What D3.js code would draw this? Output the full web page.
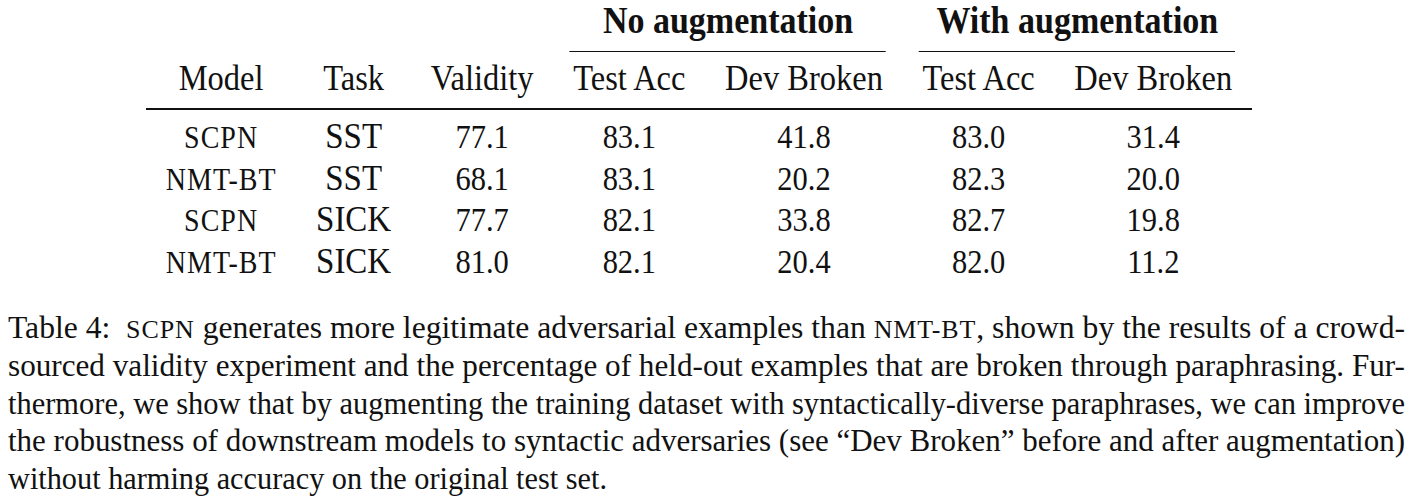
<!DOCTYPE html>
<meta charset="utf-8">
<head>
<style>
  body { margin: 0; background: #fff; }
  text { font-family: "Liberation Serif", "Times New Roman", serif; fill: #111; }
</style>
</head>
<script src="https://d3js.org/d3.v7.min.js"></script>
<body>
  <div id="my_table"></div>
</body>
<script>
    // table values
    var models = ["SCPN", "NMT-BT", "SCPN", "NMT-BT"];
    var tasks = ["SST", "SST", "SICK", "SICK"];
    var validity = [77.1, 68.1, 77.7, 81.0];
    var noAugTestAcc = [83.1, 83.1, 82.1, 82.1];
    var noAugDevBroken = [41.8, 20.2, 33.8, 20.4];
    var augTestAcc = [83.0, 82.3, 82.7, 82.0];
    var augDevBroken = [31.4, 20.0, 19.8, 11.2];
    var headers = ["Model", "Task", "Validity", "Test Acc", "Dev Broken", "Test Acc", "Dev Broken"];
    var groupLabels = ["No augmentation", "With augmentation"];
    var groupSpans = [[3, 4], [5, 6]];

    // caption lines, pieces marked sc are small caps
    var captionLines = [
      [["Table 4:  "], ["SCPN", "sc"], [" generates more legitimate adversarial examples than "], ["NMT-BT", "sc"], [", shown by the results of a crowd-"]],
      [["sourced validity experiment and the percentage of held-out examples that are broken through paraphrasing. Fur-"]],
      [["thermore, we show that by augmenting the training dataset with syntactically-diverse paraphrases, we can improve"]],
      [["the robustness of downstream models to syntactic adversaries (see \u201cDev Broken\u201d before and after augmentation)"]],
      [["without harming accuracy on the original test set."]]
    ];

    var width = 1415, height = 497;
    var tableLeft = 146, tableRight = 1252;
    var sy = 1.1; // the scan is a bit taller than wide

    var svg = d3.select("#my_table")
      .append("svg")
        .attr("width", width)
        .attr("height", height);

    // columns of cells
    var columns = [
      models, tasks,
      validity.map(function(d) { return d.toFixed(1); }),
      noAugTestAcc.map(function(d) { return d.toFixed(1); }),
      noAugDevBroken.map(function(d) { return d.toFixed(1); }),
      augTestAcc.map(function(d) { return d.toFixed(1); }),
      augDevBroken.map(function(d) { return d.toFixed(1); })
    ];
    function cellSize(c) { return c == 0 ? 28 : (c == 1 ? 33 : 30.5); }
    var headSize = 32.5;

    // measure text widths to lay columns out like a tabular
    var probe = svg.append("text").attr("opacity", 0);
    function measure(t, size, weight) {
      probe.style("font-size", size + "px").style("font-weight", weight || "normal")
        .style("letter-spacing", null).text(t);
      return probe.node().getComputedTextLength();
    }
    var colWidths = columns.map(function(col, c) {
      var w = measure(headers[c], headSize);
      col.forEach(function(t) { w = Math.max(w, measure(t, cellSize(c)) + (c == 0 ? t.length : 0)); });
      return w;
    });
    var sep = (tableRight - tableLeft - d3.sum(colWidths)) / (2 * colWidths.length);
    var edges = [tableLeft];
    colWidths.forEach(function(w, i) { edges.push(edges[i] + w + 2 * sep); });
    probe.remove();

    var colX = d3.scaleOrdinal()
      .domain(d3.range(colWidths.length))
      .range(colWidths.map(function(w, i) { return edges[i] + sep + w / 2; }));
    var rowY = d3.scaleLinear().domain([0, models.length - 1]).range([148, 273]);

    function addText(x, y, t, size, weight) {
      return svg.append("text")
        .attr("transform", "translate(" + x + "," + y + ") scale(1," + sy + ")")
        .attr("text-anchor", "middle")
        .style("font-size", size + "px")
        .style("font-weight", weight || "normal")
        .text(t);
    }

    // group headers and their rules
    groupLabels.forEach(function(label, i) {
      var a = edges[groupSpans[i][0]], b = edges[groupSpans[i][1] + 1];
      addText((a + b) / 2, 33, label, 34, "bold");
      svg.append("line")
        .attr("x1", a + 16).attr("x2", b - 17)
        .attr("y1", 51.5).attr("y2", 51.5)
        .attr("stroke", "#111").attr("stroke-width", 1.2);
    });

    // column headers
    headers.forEach(function(h, c) { addText(colX(c), 90, h, headSize); });

    // rule under the header
    svg.append("line")
      .attr("x1", tableLeft).attr("x2", tableRight)
      .attr("y1", 109).attr("y2", 109)
      .attr("stroke", "#111").attr("stroke-width", 2);

    // body cells
    columns.forEach(function(col, c) {
      col.forEach(function(t, r) {
        var el = addText(colX(c), rowY(r), t, cellSize(c));
        if (c == 0) el.style("letter-spacing", "1px");
      });
    });

    // caption, justified line by line
    var capLeft = 8, capRight = 1405, capSize = 28;
    var capY = d3.scaleLinear().domain([0, captionLines.length - 1]).range([338, 489]);
    captionLines.forEach(function(parts, i) {
      var txt = svg.append("text")
        .attr("transform", "translate(" + capLeft + "," + capY(i) + ") scale(1," + sy + ")")
        .attr("xml:space", "preserve")
        .style("font-size", capSize + "px");
      parts.forEach(function(p) {
        txt.append("tspan")
          .style("font-size", p[1] == "sc" ? "23px" : null)
          .style("letter-spacing", p[1] == "sc" ? "0.8px" : null)
          .text(p[0]);
      });
      var natural = txt.node().getComputedTextLength();
      var target = i < captionLines.length - 1 ? capRight - capLeft : natural * 1.0;
      if (i == captionLines.length - 1) target = 599;
      txt.attr("textLength", target).attr("lengthAdjust", "spacingAndGlyphs");
    });
</script>
